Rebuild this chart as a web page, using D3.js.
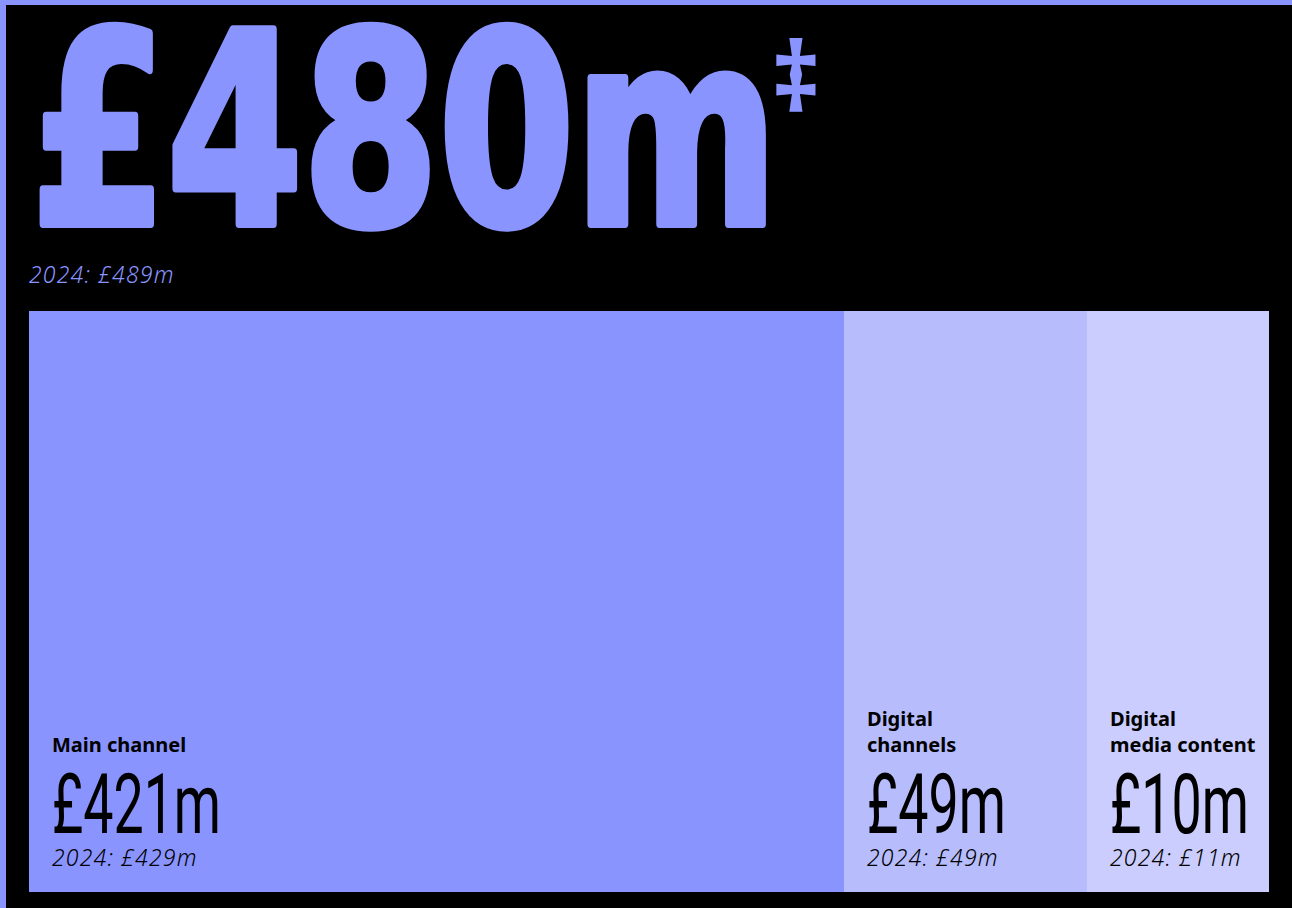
<!DOCTYPE html>
<html>
<head>
<meta charset="utf-8">
<script src="https://cdn.jsdelivr.net/npm/d3@7"></script>
<style>
  html, body { margin: 0; padding: 0; background: #000; }
  svg { display: block; }
</style>
</head>
<body>
<script>
// Revenue split by channel (£m)
const categories = ["Main channel", "Digital channels", "Digital media content"];
const labelLines = [["Main channel"], ["Digital", "channels"], ["Digital", "media content"]];
const values = [421, 49, 10];
const priorValues = [429, 49, 11];
const totalValue = 480;
const priorTotal = 489;
const fills = ["#8a94ff", "#b7bdfc", "#cacdfd"];

const W = 1292, H = 908;
const accent = "#8a94ff";

const svg = d3.select("body").append("svg")
  .attr("width", W).attr("height", H);

svg.append("rect").attr("width", W).attr("height", H).attr("fill", "#000");
// frame edges
svg.append("rect").attr("x", 0).attr("y", 0).attr("width", W).attr("height", 5).attr("fill", accent);
svg.append("rect").attr("x", 0).attr("y", 0).attr("width", 6).attr("height", H).attr("fill", accent);

// headline figure
const fmt = v => "£" + v + "m";
svg.append("text")
  .attr("x", 31).attr("y", 224)
  .attr("fill", accent)
  .attr("stroke", accent)
  .attr("stroke-width", 8)
  .attr("stroke-linejoin", "round")
  .attr("font-family", "'Liberation Sans Narrow', 'Arial Narrow', 'DejaVu Sans Condensed', sans-serif")
  .attr("font-weight", 700)
  .attr("font-size", 267)
  .attr("textLength", 747)
  .attr("lengthAdjust", "spacingAndGlyphs")
  .text(fmt(totalValue));
svg.append("text")
  .attr("x", 771).attr("y", 112)
  .attr("fill", accent)
  .attr("font-family", "'Noto Sans', 'DejaVu Sans', sans-serif")
  .attr("font-weight", 700)
  .attr("font-size", 96)
  .text("‡");

const subStyle = sel => sel
  .attr("font-family", "'Noto Sans', sans-serif")
  .attr("font-style", "italic")
  .attr("font-weight", 300)
  .attr("font-size", 23)
  .attr("letter-spacing", 1.2);

svg.append("text")
  .attr("x", 29).attr("y", 283)
  .attr("fill", accent)
  .call(subStyle)
  .text("2024: " + fmt(priorTotal));

// bar strip: each block gets a fixed base width plus a share proportional to its value
const stripX0 = 29, stripX1 = 1269, stripTop = 311, stripBottom = 892;
const baseW = 167;
const share = d3.scaleLinear()
  .domain([0, d3.sum(values)])
  .range([0, (stripX1 - stripX0) - baseW * values.length]);
const yScale = d3.scaleLinear().domain([0, 1]).range([stripBottom, stripTop]);

const data = categories.map((c, i) => ({
  name: c, lines: labelLines[i], value: values[i], prior: priorValues[i], fill: fills[i]
}));
let acc = stripX0;
data.forEach(d => {
  d.x = Math.round(acc);
  acc += baseW + share(d.value);
  d.w = Math.round(acc) - d.x;
});

const g = svg.append("g").selectAll("g").data(data).join("g")
  .attr("transform", d => `translate(${d.x},0)`);

g.append("rect")
  .attr("x", 0).attr("y", yScale(1))
  .attr("width", d => d.w).attr("height", yScale(0) - yScale(1))
  .attr("fill", d => d.fill)
  .attr("shape-rendering", "crispEdges");

const pad = 23;
g.each(function(d) {
  const sel = d3.select(this);
  const n = d.lines.length;
  d.lines.forEach((line, k) => {
    sel.append("text")
      .attr("x", pad).attr("y", 752 - (n - 1 - k) * 26)
      .attr("fill", "#000")
      .attr("font-family", "'Noto Sans', sans-serif")
      .attr("font-weight", 700)
      .attr("font-size", 20)
      .text(line);
  });
  sel.append("text")
    .attr("transform", `translate(${pad},833) scale(0.64,1)`)
    .attr("fill", "#000")
    .attr("font-family", "Roboto, 'Noto Sans', sans-serif")
    .attr("font-weight", 400)
    .attr("font-size", 84)
    .text(fmt(d.value));
  sel.append("text")
    .attr("x", pad).attr("y", 866)
    .attr("fill", "#000")
    .call(subStyle)
    .text("2024: " + fmt(d.prior));
});
</script>
</body>
</html>
